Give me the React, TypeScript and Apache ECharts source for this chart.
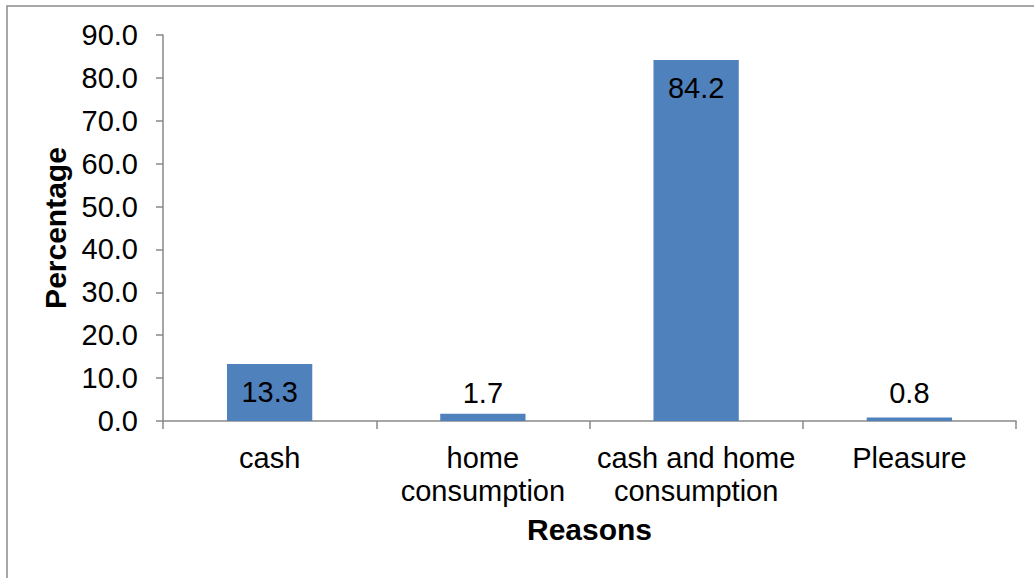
import React, { useEffect, useRef } from "react";
import * as echarts from "echarts";

const categories = ["cash", "home consumption", "cash and home consumption", "Pleasure"];
const values = [13.3, 1.7, 84.2, 0.8];
const yTicks = { min: 0, max: 90, interval: 10 };
const xTitle = "Reasons";
const yTitle = "Percentage";

const FONT = "'Liberation Sans', Arial, sans-serif";
const AXIS_COLOR = "#898989";
const FS = 29;
const TITLE_FS = 30;

export default function App() {
  const ref = useRef<HTMLDivElement>(null);
  useEffect(() => {
    if (!ref.current) return;
    const chart = echarts.init(ref.current, null, { renderer: "svg" });
    chart.setOption({
      animation: false,
      backgroundColor: "#ffffff",
      textStyle: { fontFamily: FONT },
      grid: { left: 163, right: 18, top: 35, bottom: 157, containLabel: false },
      graphic: [
        {
          type: "rect",
          shape: { x: 7, y: 6, width: 1040, height: 600 },
          style: { fill: "none", stroke: "#8c8c8c", lineWidth: 1.5 },
          silent: true,
        },
      ],
      xAxis: {
        type: "category",
        data: categories,
        name: xTitle,
        nameLocation: "middle",
        nameGap: 93,
        nameTextStyle: { fontFamily: FONT, fontSize: TITLE_FS, fontWeight: "bold", color: "#000" },
        axisLine: { lineStyle: { color: AXIS_COLOR, width: 1.5 } },
        axisTick: { show: true, length: 8, lineStyle: { color: AXIS_COLOR, width: 1.5 } },
        axisLabel: {
          color: "#000",
          fontFamily: FONT,
          fontSize: FS,
          lineHeight: 33,
          margin: 20,
          interval: 0,
          formatter: (v: string) => v.replace(" consumption", "\nconsumption"),
        },
        splitLine: { show: false },
      },
      yAxis: {
        type: "value",
        min: yTicks.min,
        max: yTicks.max,
        interval: yTicks.interval,
        name: yTitle,
        nameLocation: "middle",
        nameGap: 84,
        nameTextStyle: { fontFamily: FONT, fontSize: TITLE_FS, fontWeight: "bold", color: "#000" },
        axisLine: { show: true, lineStyle: { color: AXIS_COLOR, width: 1.5 } },
        axisTick: { show: true, length: 7, lineStyle: { color: AXIS_COLOR, width: 1.5 } },
        axisLabel: {
          color: "#000",
          fontFamily: FONT,
          fontSize: FS,
          margin: 25,
          formatter: (v: number) => v.toFixed(1),
        },
        splitLine: { show: false },
      },
      series: [
        {
          type: "bar",
          data: values.map((v) => ({
            value: v,
            label: {
              position: v > 5 ? "insideTop" : "insideBottom",
              distance: 14,
            },
          })),
          barWidth: "40%",
          itemStyle: { color: "#4F81BD" },
          label: {
            show: true,
            color: "#000",
            fontFamily: FONT,
            fontSize: FS,
            lineHeight: 29,
            formatter: (p: any) => Number(p.value).toFixed(1),
          },
        },
      ],
    });
    return () => chart.dispose();
  }, []);
  return (
    <div
      ref={ref}
      style={{ position: "absolute", left: 0, top: 0, width: 1034, height: 578 }}
    />
  );
}
